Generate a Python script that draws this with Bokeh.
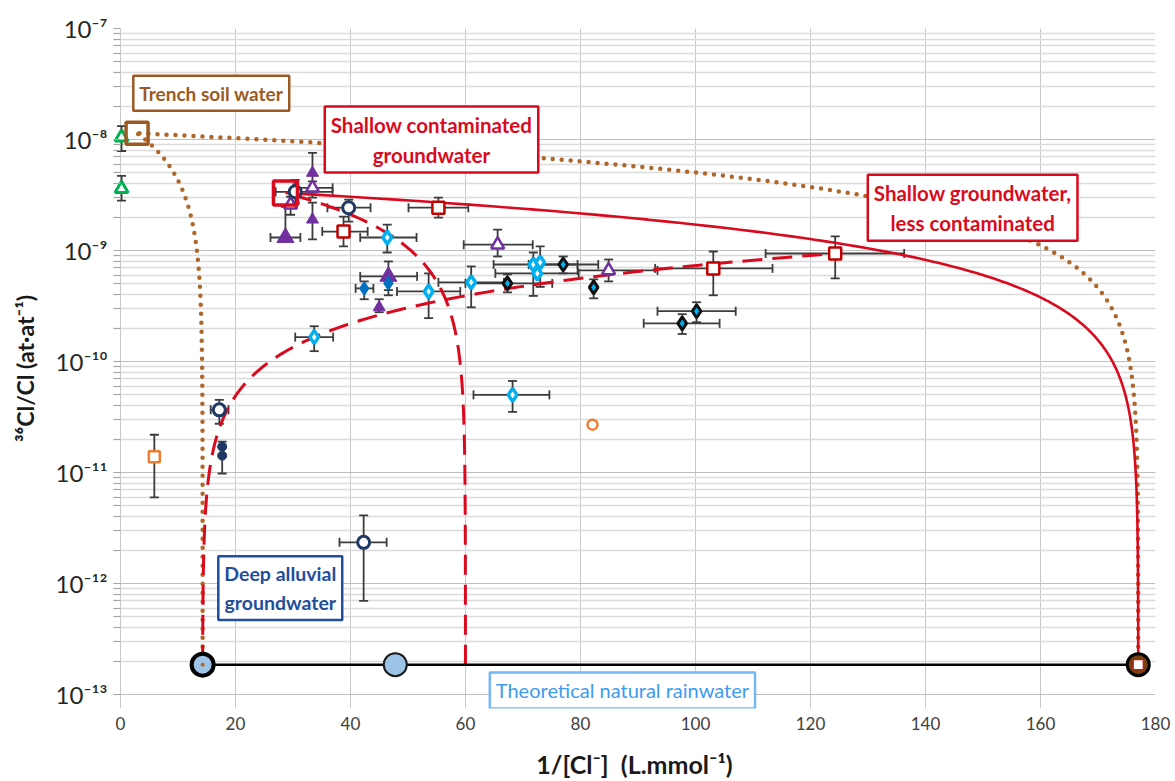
import numpy as np
from bokeh.plotting import figure
from bokeh.models import (ColumnDataSource, Whisker, TeeHead, FixedTicker, Label,
                          CustomJSTickFormatter, Range1d)
from bokeh.embed import file_html
from bokeh.resources import INLINE

# ---------------------------------------------------------------------------
# Measurements: x = 1/[Cl-] (L/mmol), r = 36Cl/Cl (at/at)
# lo / hi are the error-bar bounds (None where no bar is drawn)
# ---------------------------------------------------------------------------
green_tri_x = [0.2, 0.2]
green_tri_r = [1.05e-8, 3.6e-9]
green_tri_x_lo = [None, None]
green_tri_x_hi = [None, None]
green_tri_r_lo = [7.88e-9, 2.81e-9]
green_tri_r_hi = [1.32e-8, 4.71e-9]

orange_sq_x = [5.9]
orange_sq_r = [1.39e-11]
orange_sq_x_lo = [None]
orange_sq_x_hi = [None]
orange_sq_r_lo = [5.97e-12]
orange_sq_r_hi = [2.19e-11]

orange_circ_x = [82.1]
orange_circ_r = [2.7e-11]

navy_open_x = [30.4, 39.7, 17.2, 42.3]
navy_open_r = [3.38e-9, 2.43e-9, 3.67e-11, 2.35e-12]
navy_open_x_lo = [27.0, 36.0, 15.7, 38.1]
navy_open_x_hi = [36.9, 43.5, 18.8, 46.3]
navy_open_r_lo = [2.69e-9, 1.82e-9, 2.75e-11, 6.97e-13]
navy_open_r_hi = [4.33e-9, 2.87e-9, 4.52e-11, 4.11e-12]

navy_fill_x = [17.7, 17.7]
navy_fill_r = [1.71e-11, 1.42e-11]
navy_fill_x_lo = [None, None]
navy_fill_x_hi = [None, None]
navy_fill_r_lo = [1.45e-11, 9.8e-12]
navy_fill_r_hi = [1.90e-11, 1.70e-11]

purple_big_x = [28.7, 46.6]
purple_big_r = [1.31e-9, 5.85e-10]
purple_big_x_lo = [26.1, 41.7]
purple_big_x_hi = [31.3, 51.6]
purple_big_r_lo = [1.31e-9, 4.4e-10]
purple_big_r_hi = [2.48e-9, 7.97e-10]

purple_fill_x = [33.4, 33.4, 45.0]
purple_fill_r = [5.01e-9, 1.90e-9, 3.08e-10]
purple_fill_x_lo = [None, None, None]
purple_fill_x_hi = [None, None, None]
purple_fill_r_lo = [3.0e-9, 1.26e-9, 2.78e-10]
purple_fill_r_hi = [7.57e-9, 2.7e-9, 3.64e-10]

purple_open_x = [29.6, 33.4, 65.6, 84.9]
purple_open_r = [2.59e-9, 3.67e-9, 1.13e-9, 6.62e-10]
purple_open_x_lo = [None, 30.1, 59.7, 79.5]
purple_open_x_hi = [None, 36.9, 71.7, 93.4]
purple_open_r_lo = [2.10e-9, 3.2e-9, 8.84e-10, 5.27e-10]
purple_open_r_hi = [3.05e-9, 4.2e-9, 1.54e-9, 8.3e-10]

red_sq_x = [38.8, 55.3, 103.1, 124.3]
red_sq_r = [1.48e-9, 2.43e-9, 6.9e-10, 9.4e-10]
red_sq_x_lo = [35.1, 50.1, 93.0, 112.2]
red_sq_x_hi = [43.0, 60.5, 113.4, 136.3]
red_sq_r_lo = [1.09e-9, 1.98e-9, 3.95e-10, 5.61e-10]
red_sq_r_hi = [2.02e-9, 2.99e-9, 9.8e-10, 1.34e-9]

cyan_open_x = [46.4, 53.6, 61.0, 71.8, 73.0, 72.5, 33.7, 68.2]
cyan_open_r = [1.31e-9, 4.28e-10, 5.17e-10, 7.48e-10, 7.8e-10, 6.22e-10, 1.66e-10, 5.01e-11]
cyan_open_x_lo = [41.7, 48.1, 55.3, 64.9, None, 65.2, 30.4, 61.4]
cyan_open_x_hi = [51.5, 59.1, 66.7, 79.5, None, 79.7, 37.0, 74.6]
cyan_open_r_lo = [9.6e-10, 2.46e-10, 3.08e-10, 3.9e-10, 4.7e-10, None, 1.24e-10, 3.52e-11]
cyan_open_r_hi = [1.71e-9, 6.22e-10, 7.19e-10, 9.6e-10, 1.09e-9, None, 2.08e-10, 6.68e-11]

blue_fill_x = [42.4, 46.6]
blue_fill_r = [4.56e-10, 5.06e-10]
blue_fill_x_lo = [40.9, None]
blue_fill_x_hi = [44.0, None]
blue_fill_r_lo = [3.64e-10, 3.95e-10]
blue_fill_r_hi = [5.27e-10, 5.06e-10]

black_dia_x = [67.3, 77.0, 82.3, 100.2, 97.7]
black_dia_r = [5.06e-10, 7.48e-10, 4.66e-10, 2.84e-10, 2.21e-10]
black_dia_x_lo = [60.0, 71.0, None, 93.4, 91.0]
black_dia_x_hi = [75.1, 83.1, None, 107.0, 104.2]
black_dia_r_lo = [4.2e-10, 6.22e-10, 3.71e-10, 2.26e-10, 1.77e-10]
black_dia_r_hi = [6.1e-10, 8.84e-10, 5.5e-10, 3.42e-10, 2.67e-10]

# End-members of the mixing model
trench_x, trench_r = 2.9, 1.14e-8          # trench soil water
contam_x, contam_r = 28.7, 3.3e-9          # shallow contaminated groundwater
less_x, less_r = 124.3, 9.4e-10            # shallow groundwater, less contaminated
rain_r = 1.86e-13                          # theoretical natural rainwater ratio
deep_x = 14.3                              # deep alluvial groundwater
rain_mid_x = 47.8
rain_far_x = 177.0
contam_cut_x = 60.0

x_ticks = [0, 20, 40, 60, 80, 100, 120, 140, 160, 180]
decades = [-13, -12, -11, -10, -9, -8, -7]

# ---------------------------------------------------------------------------
FONT = "Lato"
BROWN = "#9C5A22"
DOT_BROWN = "#B0672A"
RED = "#DA0A1E"
DARK_RED = "#C00000"
DEEP_BLUE = "#1F4E9C"
RAIN_BLUE = "#3E9BF2"
ERR = "#3C3C3C"


def mixing(x_hi_end, r_hi_end, x_lo_end, r_lo_end, n=400):
    # binary mixing is a straight line in (1/Cl, 36Cl/Cl); sample densely
    # near the low-ratio end so the log axis shows the curve properly
    d = np.concatenate([[0.0], np.geomspace(1e-6, 1.0, n)])
    return (x_lo_end + (x_hi_end - x_lo_end) * d,
            r_lo_end + (r_hi_end - r_lo_end) * d)


# a little slack left of x=0 and below 1e-13 so edge markers and the
# rainwater caption are not cut by the frame
p = figure(width=1175, height=781, y_axis_type="log",
           x_range=Range1d(-1.2, 180), y_range=Range1d(7.49e-14, 1e-7),
           output_backend="svg", toolbar_location=None,
           min_border_left=113, min_border_right=20,
           min_border_top=28, min_border_bottom=70,
           background_fill_color="white", border_fill_color="white")

p.outline_line_color = None
p.xaxis.ticker = FixedTicker(ticks=x_ticks)
p.yaxis.ticker = FixedTicker(
    ticks=[10.0 ** e for e in decades],
    minor_ticks=[k * 10.0 ** e for e in decades[:-1] for k in range(2, 10)])
p.yaxis.formatter = CustomJSTickFormatter(code="""
const sup = {"-": "\u207b", "0": "\u2070", "1": "\u00b9", "2": "\u00b2", "3": "\u00b3",
             "4": "\u2074", "5": "\u2075", "6": "\u2076", "7": "\u2077", "8": "\u2078", "9": "\u2079"};
const e = Math.round(Math.log10(tick));
return "10" + String(e).split("").map(c => sup[c]).join("");
""")

p.xgrid.grid_line_color = "#C8C8C8"
p.ygrid.grid_line_color = "#BFBFBF"
p.ygrid.minor_grid_line_color = "#DCDCDC"
p.ygrid.minor_grid_line_width = 1.5

for ax in (p.xaxis[0], p.yaxis[0]):
    ax.axis_line_color = None
    ax.major_label_text_font = FONT
    ax.axis_label_text_font = FONT
    ax.axis_label_text_font_style = "bold"
    ax.axis_label_text_color = "#1A1A1A"

p.xaxis.major_tick_line_color = None
p.xaxis.minor_tick_line_color = None
p.xaxis.major_label_text_font_size = "17px"
p.xaxis.major_label_text_color = "#404040"
p.xaxis.major_label_standoff = 2
p.xaxis.axis_label = "1/[Cl\u207b]\u00a0\u00a0(L.mmol\u207b\u00b9)"
p.xaxis.axis_label_text_font_size = "25px"
p.xaxis.axis_label_standoff = 16

p.yaxis.major_tick_line_color = "#A6A6A6"
p.yaxis.minor_tick_line_color = "#A6A6A6"
p.yaxis.major_tick_in = 7
p.yaxis.minor_tick_in = 7
p.yaxis.major_tick_out = 0
p.yaxis.minor_tick_out = 0
p.yaxis.major_label_text_font_size = "24px"
p.yaxis.major_label_text_color = "#262626"
p.yaxis.major_label_standoff = 6
p.yaxis.axis_label = "\u00b3\u2076Cl/Cl (at\u00b7at\u207b\u00b9)"
p.yaxis.axis_label_text_font_size = "23px"
p.yaxis.axis_label_standoff = 14


# --- error bars ------------------------------------------------------------
def add_errors(xs, rs, x_lo, x_hi, r_lo, r_hi):
    vx = [(x, r, a, b) for x, r, a, b in zip(xs, rs, r_lo, r_hi) if a is not None]
    if vx:
        src = ColumnDataSource(dict(x=[v[0] for v in vx], lo=[v[2] for v in vx],
                                    hi=[v[3] for v in vx]))
        p.add_layout(Whisker(source=src, base="x", lower="lo", upper="hi",
                             dimension="height", line_color=ERR, line_width=1.8,
                             upper_head=TeeHead(size=9, line_color=ERR, line_width=1.8),
                             lower_head=TeeHead(size=9, line_color=ERR, line_width=1.8)))
    hx = [(r, a, b) for r, a, b in zip(rs, x_lo, x_hi) if a is not None]
    if hx:
        src = ColumnDataSource(dict(r=[v[0] for v in hx], lo=[v[1] for v in hx],
                                    hi=[v[2] for v in hx]))
        p.add_layout(Whisker(source=src, base="r", lower="lo", upper="hi",
                             dimension="width", line_color=ERR, line_width=1.8,
                             upper_head=TeeHead(size=9, line_color=ERR, line_width=1.8),
                             lower_head=TeeHead(size=9, line_color=ERR, line_width=1.8)))


add_errors(green_tri_x, green_tri_r, green_tri_x_lo, green_tri_x_hi, green_tri_r_lo, green_tri_r_hi)
add_errors(orange_sq_x, orange_sq_r, orange_sq_x_lo, orange_sq_x_hi, orange_sq_r_lo, orange_sq_r_hi)
add_errors(navy_open_x, navy_open_r, navy_open_x_lo, navy_open_x_hi, navy_open_r_lo, navy_open_r_hi)
add_errors(navy_fill_x, navy_fill_r, navy_fill_x_lo, navy_fill_x_hi, navy_fill_r_lo, navy_fill_r_hi)
add_errors(purple_big_x, purple_big_r, purple_big_x_lo, purple_big_x_hi, purple_big_r_lo, purple_big_r_hi)
add_errors(purple_fill_x, purple_fill_r, purple_fill_x_lo, purple_fill_x_hi, purple_fill_r_lo, purple_fill_r_hi)
add_errors(purple_open_x, purple_open_r, purple_open_x_lo, purple_open_x_hi, purple_open_r_lo, purple_open_r_hi)
add_errors(red_sq_x, red_sq_r, red_sq_x_lo, red_sq_x_hi, red_sq_r_lo, red_sq_r_hi)
add_errors(cyan_open_x, cyan_open_r, cyan_open_x_lo, cyan_open_x_hi, cyan_open_r_lo, cyan_open_r_hi)
add_errors(blue_fill_x, blue_fill_r, blue_fill_x_lo, blue_fill_x_hi, blue_fill_r_lo, blue_fill_r_hi)
add_errors(black_dia_x, black_dia_r, black_dia_x_lo, black_dia_x_hi, black_dia_r_lo, black_dia_r_hi)

# --- mixing lines ----------------------------------------------------------
mx, mr = mixing(trench_x, trench_r, deep_x, rain_r)
p.line(mx, mr, line_color=DOT_BROWN, line_width=4.5, line_dash="0 9", line_cap="round")
mx, mr = mixing(trench_x, trench_r, rain_far_x, rain_r)
p.line(mx, mr, line_color=DOT_BROWN, line_width=4.5, line_dash="0 9", line_cap="round")

mx, mr = mixing(contam_x, contam_r, rain_far_x, rain_r)
p.line(mx, mr, line_color=RED, line_width=2.6)
mx, mr = mixing(contam_x, contam_r, contam_cut_x, rain_r)
p.line(mx, mr, line_color=RED, line_width=3, line_dash="20 10")
mx, mr = mixing(less_x, less_r, deep_x, rain_r)
p.line(mx, mr, line_color=RED, line_width=3, line_dash="20 10")

# rainwater baseline
p.line([deep_x, rain_far_x], [rain_r, rain_r], line_color="black", line_width=2.5)

# --- samples ---------------------------------------------------------------
p.scatter(green_tri_x, green_tri_r, marker="triangle", size=13,
          line_color="#00B050", line_width=3, fill_color="white")
p.scatter(orange_sq_x, orange_sq_r, marker="square", size=11,
          line_color="#ED7D31", line_width=2.5, fill_color="white")
p.scatter(orange_circ_x, orange_circ_r, marker="circle", size=10,
          line_color="#ED7D31", line_width=2.5, fill_color="white")
p.scatter(navy_fill_x, navy_fill_r, marker="circle", size=9,
          line_color="#1F3864", fill_color="#1F3864")
p.scatter(purple_big_x, purple_big_r, marker="triangle", size=17,
          line_color="#7030A0", fill_color="#7030A0")
p.scatter(purple_fill_x, purple_fill_r, marker="triangle", size=12,
          line_color="#7030A0", fill_color="#7030A0")
p.scatter(purple_open_x, purple_open_r, marker="triangle", size=13,
          line_color="#7030A0", line_width=2.5, fill_color="white")
p.scatter(red_sq_x, red_sq_r, marker="square", size=12,
          line_color=DARK_RED, line_width=2.5, fill_color="white")
p.scatter(blue_fill_x, blue_fill_r, marker="diamond", size=14,
          line_color="#0070C0", fill_color="#0070C0")
p.scatter(cyan_open_x, cyan_open_r, marker="diamond", size=13,
          line_color="#00B0F0", line_width=3.5, fill_color="white")
p.scatter(black_dia_x, black_dia_r, marker="diamond", size=13,
          line_color="#101010", line_width=3, fill_color="#00B0F0")
p.scatter(navy_open_x, navy_open_r, marker="circle", size=12,
          line_color="#1F3864", line_width=3, fill_color="white")

# --- end-members -----------------------------------------------------------
p.scatter([trench_x], [trench_r], marker="square", size=22,
          line_color=BROWN, line_width=3.5, fill_alpha=0)
p.scatter([contam_x], [contam_r], marker="square", size=24,
          line_color=RED, line_width=3.5, fill_alpha=0)
p.scatter([deep_x], [rain_r], marker="circle", size=22,
          line_color="black", line_width=4, fill_color="#9DC3E6")
p.scatter([deep_x], [rain_r], marker="circle", size=4, line_color=None, fill_color=DOT_BROWN)
p.scatter([rain_mid_x], [rain_r], marker="circle", size=23,
          line_color="#1A1A1A", line_width=2, fill_color="#9DC3E6")
p.scatter([rain_far_x], [rain_r], marker="circle", size=22,
          line_color="black", line_width=3, fill_color="#7B3F10")
p.scatter([rain_far_x], [rain_r], marker="square", size=10,
          line_color=RED, line_width=1.2, fill_color="white")


# --- annotations -----------------------------------------------------------
def box(x, y, text, color, size, border=None, bold=True):
    p.add_layout(Label(x=x, y=y, text=text, text_align="center", text_baseline="middle",
                       text_font=FONT, text_font_style="bold" if bold else "normal",
                       text_font_size=size, text_color=color, text_line_height=1.25,
                       border_line_color=border or color, border_line_width=2.5,
                       background_fill_color="white", padding=6))


box(15.8, 2.61e-8, "Trench soil water", BROWN, "19px")
box(54.1, 1.0e-8, "Shallow contaminated\ngroundwater", RED, "20.5px")
box(148.2, 2.43e-9, "Shallow groundwater,\nless contaminated", RED, "20.5px")
box(27.8, 9.1e-13, "Deep alluvial\ngroundwater", DEEP_BLUE, "19.5px")
box(87.3, 1.09e-13, "Theoretical natural rainwater", RAIN_BLUE, "20px",
    border="#76B7F5", bold=False)

open("out.html", "w").write(file_html(p, INLINE))
